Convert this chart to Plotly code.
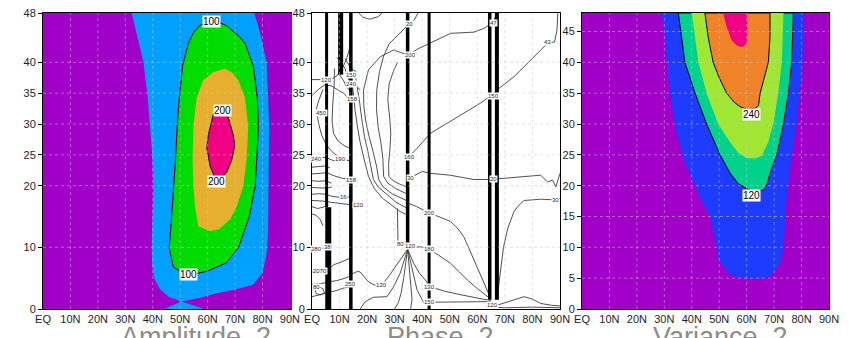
import plotly.graph_objects as go

# ---------------- axes / ticks ----------------
LAT_TICKS = [0, 10, 20, 30, 40, 50, 60, 70, 80, 90]
LAT_LABELS = ["EQ", "10N", "20N", "30N", "40N", "50N", "60N", "70N", "80N", "90N"]
LEV_TICKS_AP = [0, 10, 20, 25, 30, 35, 40, 48]
LEV_TICKS_VAR = [0, 5, 10, 15, 20, 25, 30, 35, 40, 45]

# ---------------- Amplitude 2 : contour boundaries (lat, level) ----------------
AMP_50_LAT = [32.3, 34.0, 36.6, 38.0, 39.0, 39.8, 40.2, 40.0, 39.6, 39.8, 40.5, 42.6, 46.0, 50.5,
              44.2, 58.8, 50.5, 57.0, 63.0, 69.3, 76.5, 80.0, 81.5, 82.0, 82.3, 82.4, 81.5, 79.0, 77.0]
AMP_50_LEV = [48, 45, 40, 35, 30, 25, 20, 15, 10, 7, 5, 3.2, 1.9, 1.2,
              0, 0, 1.2, 1.8, 2.5, 3.1, 3.9, 5.8, 9, 12, 20, 30, 40, 45, 48]
AMP_100_LAT = [57.2, 60.0, 62.0, 64.5, 67.0, 69.5, 71.5, 73.6, 76.6, 78.1, 78.5, 77.9, 77.3, 75.2, 71.2,
               66.9, 59.6, 55.4, 51.0, 47.5, 46.0, 46.9, 47.7, 48.3, 48.9, 49.7, 50.9, 53.0, 54.8]
AMP_100_LEV = [46.0, 46.5, 46.6, 46.4, 45.9, 45.0, 44.2, 43.1, 39.5, 34.3, 29.6, 24.2, 19.9, 15.0, 9.9,
               7.5, 6.1, 5.7, 5.9, 6.8, 9.9, 15.0, 19.9, 24.2, 29.6, 34.3, 39.5, 43.1, 44.8]
AMP_150_LAT = [62.0, 66.3, 69.0, 71.2, 73.6, 74.8, 74.2, 73.0, 70.6, 68.2, 64.0, 60.9, 56.6, 55.4,
               54.8, 54.5, 54.8, 56.0, 58.4]
AMP_150_LEV = [38.4, 39.0, 38.3, 37.1, 34.3, 29.6, 24.2, 19.9, 16.6, 14.5, 12.9, 12.6, 13.4, 16.6,
               19.9, 24.2, 29.6, 34.3, 37.1]
AMP_200_LAT = [62.0, 64.8, 67.2, 69.3, 69.9, 68.8, 66.9, 65.1, 62.7, 60.9, 59.7, 60.3, 61.5]
AMP_200_LEV = [31.5, 31.8, 31.5, 28.3, 26.6, 24.2, 22.1, 21.3, 21.2, 23.2, 26.1, 28.3, 30.5]
AMP_LABELS = ["100", "100", "200", "200"]
AMP_LABEL_LAT = [61.5, 53.0, 65.3, 63.2]
AMP_LABEL_LEV = [46.6, 5.6, 32.2, 20.6]

# ---------------- Variance 2 : contour boundaries (lat, level) ----------------
VAR_60_LAT = [29.0, 30.0, 30.9, 32.0, 33.9, 36.9, 41.2, 43.6, 46.6, 48.0, 49.1, 49.3, 51.5, 54.0, 57.6,
              62.0, 66.0, 68.5, 71.5, 72.8, 73.4, 73.8, 74.0, 75.0, 76.4, 78.2, 79.4, 80.4, 80.7]
VAR_60_LEV = [48, 44.8, 39.6, 35, 29.6, 24.4, 19.9, 17.4, 15, 12.3, 9.8, 8.4, 6.8, 5.5, 5.0,
              4.8, 4.9, 5.2, 6.8, 8.4, 9.8, 12.3, 15, 20, 25, 30, 35, 40, 48]
VAR_120_LAT = [35.1, 37.5, 41.2, 45.4, 50.3, 54.0, 57.0, 61.2, 64.0, 66.5, 67.6, 68.5, 71.0, 73.4, 75.2, 76.4, 77.0]
VAR_120_LEV = [48, 40, 35, 30, 25, 22, 20.3, 19.2, 19.0, 19.4, 20.5, 22, 25, 30, 35, 40, 48]
VAR_180_LAT = [40.0, 42.4, 45.4, 49.6, 54.0, 57.0, 60.0, 63.0, 65.5, 67.8, 69.7, 71.5, 72.8, 73.4]
VAR_180_LEV = [48, 40, 35, 30, 27, 25.3, 24.5, 24.4, 24.8, 27, 30, 35, 40, 48]
VAR_240_LAT = [44.8, 46.0, 47.8, 50.0, 52.7, 55.5, 57.6, 60.0, 63.0, 64.3, 64.9, 66.5, 67.9, 68.5, 68.5]
VAR_240_LEV = [48, 44, 40, 37.5, 35, 33.5, 32.8, 32.4, 32.5, 33, 35, 37.5, 40, 44, 48]
VAR_300_LAT = [51.5, 52.5, 54.5, 56.5, 58.5, 60.0, 60.3, 60.0]
VAR_300_LEV = [48, 46, 43.6, 42.7, 42.5, 43, 45, 48]
VAR_LABELS = ["240", "120"]
VAR_LABEL_LAT = [61.8, 61.8]
VAR_LABEL_LEV = [31.6, 18.4]

# ---------------- Phase 2 : contour lines (lat, level) ----------------
BAND_LAT = [5.3, 5.9, 10.4, 14.1, 34.7, 42.5, 64.5, 67.1]
BAND_BOT = [16.5, 0, 38, 0, 10, 0, 1.5, 1.5]
BAND_TOP = [48, 16.5, 48, 48, 48, 48, 48, 48]

PH_LINES = [
    # the "<"-shaped family between 15N and 35N
    ([13.8, 14.5, 15.0, 15.7, 16.5, 17.5, 18.8, 20.5, 22.5, 25.5, 29.0, 32.0, 34.7],
     [40, 37, 34.5, 32, 29.5, 27, 24.5, 21.5, 19.6, 18, 16.8, 15.8, 15.2]),
    ([15.5, 16.5, 17.3, 18.0, 19.0, 20.3, 21.5, 22.3, 24.0, 27.0, 30.5, 34.7],
     [38.5, 36, 33.5, 31, 28, 25.5, 23, 21, 19.8, 18.6, 17.3, 16.3]),
    ([67.1, 65.6, 62.4, 58.8, 50.3, 43.0, 38.5, 34.7, 29.6, 24.8, 20.5, 18.7, 18.8, 19.5, 20.7, 22.2,
      23.5, 24.2, 25.8, 29.0, 32.0, 34.7],
     [48, 46.4, 45.5, 44.9, 44.7, 43.1, 42.2, 41.2, 42, 40.9, 38.8, 35.5, 33, 30.5, 28, 25.5,
      23, 21, 19.8, 18.7, 18, 17.5]),
    ([38.5, 37.0, 34.7, 31.5, 28.0, 26.0, 24.5, 23.5, 23.4, 24.0, 25.0, 25.7, 26.0, 27.5, 30.5, 34.7],
     [48, 46.8, 46, 44.5, 43, 41, 38.5, 35.5, 32.5, 29.5, 27, 24.5, 21.5, 20.4, 19.5, 18.6]),
    ([31.0, 29.5, 28.0, 27.5, 28.2, 28.6, 28.3, 27.8, 27.9, 29.5, 32.0, 34.7],
     [40, 38.5, 36.5, 34, 31, 28.5, 26, 23.5, 21.5, 20.8, 20.2, 19.8]),
    ([17.0, 18.5, 21.0, 24.0, 25.5], [48, 47.3, 47, 47.4, 48]),
    # right half
    ([34.7, 38.0, 43.0, 49.1, 55.1, 61.2, 64.3, 68.5, 73.4, 78.2, 83.1, 85.5, 88.0, 88.9, 89.2],
     [24.5, 26, 28.5, 30.1, 31.7, 33.4, 34.4, 36, 37.7, 39.8, 42, 43.1, 43.3, 45.2, 48]),
    ([34.7, 37.0, 40.0, 43.0, 50.0, 58.8, 64.5, 67.1, 75.0, 80.5, 83.0, 85.5, 87.3, 88.5, 89.5, 90.0],
     [21.2, 21.6, 22.3, 22, 21.7, 21, 21, 21.1, 21.4, 21.6, 21.7, 20.6, 20.9, 19.8, 21.5, 22]),
    ([67.1, 67.8, 68.5, 69.5, 71.0, 73.3, 75.0, 77.0, 83.0, 88.0, 90.0],
     [1.5, 4, 7, 10, 13, 15.8, 16.8, 17.6, 17.8, 17.7, 18]),
    ([67.1, 70.0, 73.0, 77.0, 80.0, 83.0, 87.0, 90.0], [0.6, 1, 1.5, 2, 1.6, 0.9, 0.6, 0.5]),
    ([64.9, 70.0, 80.0, 90.0], [0.3, 0.2, 0.3, 0.2]),
    # fan converging near 65N at the surface
    ([34.7, 38.0, 42.5, 46.0, 50.3, 53.0, 55.1, 57.0, 58.8, 60.5, 62.4, 64.0, 64.9],
     [17.2, 16.6, 15.6, 15, 14.2, 13, 11.7, 9.8, 7.9, 6, 4.2, 2.6, 1.8]),
    ([34.7, 37.0, 39.4, 42.5, 46.0, 50.3, 53.5, 56.4, 59.5, 62.4, 64.9],
     [9.7, 10, 10.1, 9.7, 8.7, 7.4, 6, 4.7, 3.5, 2.5, 1.6]),
    ([34.7, 36.9, 39.0, 40.6, 43.0, 48.0, 53.0, 58.0, 62.0, 64.9],
     [9.7, 7.4, 5.8, 5, 3.6, 2.9, 2.4, 1.9, 1.6, 1.4]),
    ([34.7, 36.3, 37.5, 38.1, 39.5, 40.6, 43.0, 50.0, 57.0, 64.9],
     [9.7, 6.3, 4.3, 3.1, 1.8, 1, 1.1, 1.1, 1.1, 1.2]),
    ([34.7, 35.7, 36.2, 36.3, 35.8], [9.7, 5.2, 3, 1.6, 0]),
    ([14.1, 15.0, 16.5, 17.5, 19.0, 20.5, 22.5, 25.4, 28.0, 31.0, 33.0, 34.7],
     [5.6, 5.8, 6.1, 6, 5.1, 4.4, 3.9, 3.9, 5.4, 7.3, 8.6, 9.7]),
    ([17.5, 19.3, 22.3, 25.4, 27.2, 29.6, 32.0, 34.7], [0, 1.2, 1.9, 1.9, 2, 3.6, 5.8, 9.7]),
    ([30.0, 31.3, 32.3, 33.3, 34.7], [0, 1, 2.5, 5.1, 9.7]),
    ([31.0, 31.0, 31.2, 33.0, 34.7], [16.3, 13.5, 11, 10.6, 10.3]),
    # dense cluster near the equator
    ([0, 3, 6, 9, 11, 12.5, 13.5, 14.0], [37.2, 37.2, 37.0, 37.8, 39, 40.5, 42, 44]),
    ([0, 2, 4.5, 7, 9.5, 11.5, 13, 14.1], [34.6, 35.5, 36.3, 36.2, 35.5, 35, 34.2, 33]),
    ([4.0, 2.6, 1.6, 2.3, 3.5, 5.2, 7.3, 9.6, 12.0, 14.1], [35.6, 34, 32.5, 30.3, 28.2, 26.6, 25.5, 24.7, 24.2, 24]),
    ([8.2, 8.0, 7.5, 7.3, 7.8, 9.5, 12.0, 14.1], [39, 36, 33, 30.5, 28.5, 27.2, 26.4, 26]),
    ([9.0, 10.5, 12.0, 13.0, 14.1], [40.8, 40, 39, 37.5, 36.5]),
    ([10.0, 11.5, 12.5, 14.1], [38, 37, 36, 35.3]),
    ([12.0, 13.5, 15.0, 16.2], [40.6, 39.5, 38.7, 38.5]),
    ([14.1, 15.5, 16.5, 17.5], [37.2, 36.5, 36, 35.5]),
    ([0, 2.5, 5, 7, 9], [24.5, 24.5, 24.6, 24.2, 23.9]),
    ([0, 2.5, 5, 6.5], [23.0, 23.1, 23.2, 22.9]),
    ([0, 3, 5.5, 8, 11, 14.1], [21.9, 22.0, 22.1, 21.6, 21.2, 21.0]),
    ([0, 2.5, 5, 7], [20.8, 20.7, 20.8, 20.4]),
    ([0, 3, 5.5, 7.2], [19.7, 19.6, 19.6, 19.8]),
    ([0, 2.5, 5, 7, 10, 14.1], [18.6, 18.7, 18.6, 18.3, 18.1, 18.2]),
    ([0, 4, 7, 10, 14.1, 16.5], [17.6, 17.5, 17.3, 17.1, 16.9, 16.8]),
    ([0, 2, 4, 6], [16.6, 16.3, 16.5, 16.9]),
    ([0, 1.5, 3.0, 4.0], [15.4, 15.2, 14.5, 13.5]),
    ([0, 3, 5.3, 7], [9.8, 9.8, 9.9, 10]),
    ([0, 2, 4, 6, 8, 10.5, 12.5, 14.1], [6.0, 6.1, 6.2, 6.5, 7.2, 7.6, 8, 8.3]),
    ([0, 3, 6, 9, 12, 14.1], [4.0, 4.1, 4.4, 4.6, 5, 5.4]),
    ([0, 3, 6, 9, 11.5, 14.1], [2.0, 2.3, 2.6, 3.0, 3.4, 3.6]),
    ([1.0, 2.5, 4.0, 4.5, 3.0, 1.5, 1.0], [3.2, 3.6, 3.3, 2.6, 2.3, 2.5, 3.2]),
]

PH_LABELS = ["20", "200", "47", "150", "160", "30", "20", "30", "43", "120", "150", "240", "158",
             "450", "240", "190", "158", "16", "120", "280", "38", "2070", "80", "250", "130",
             "80", "120", "200", "180", "130", "150", "120"]
PH_LABEL_LAT = [35.5, 35.8, 65.8, 65.8, 35.5, 35.8, 65.8, 88.3, 85.5, 5.3, 14.3, 14.5, 14.8,
                3.5, 1.5, 10.5, 14.3, 11.5, 16.8, 1.8, 5.6, 3.0, 1.8, 14.1, 25.4,
                32.0, 35.6, 42.5, 42.5, 42.5, 42.5, 65.5]
PH_LABEL_LEV = [46.2, 41.2, 46.4, 34.6, 24.6, 21.2, 21.1, 17.7, 43.3, 37.1, 38.0, 36.5, 34.0,
                31.8, 24.4, 24.3, 21.0, 18.1, 16.8, 9.8, 10.0, 6.2, 3.5, 4.0, 3.9,
                10.6, 10.2, 15.6, 9.7, 3.6, 1.1, 0.6]

TITLES = ["Amplitude  2", "Phase  2", "Variance  2"]

# ---------------- colours (GrADS defaults) ----------------
PURPLE = "rgb(160,0,200)"
AMP_COLORS = ["rgb(0,160,255)", "rgb(0,220,0)", "rgb(230,175,45)", "rgb(240,0,130)"]
VAR_COLORS = ["rgb(30,60,255)", "rgb(0,210,140)", "rgb(160,230,50)", "rgb(240,130,40)", "rgb(240,0,130)"]

# page body has an 8px margin, so the figure is laid out in its own coordinates
OFF = 8
W, H = 851 - OFF, 338


def px_x(p):
    return (p - OFF) / W


def px_y(p):
    return 1 - (p - OFF) / H


XDOM = [[px_x(43), px_x(292)], [px_x(312), px_x(560)], [px_x(582), px_x(829)]]
YDOM = [px_y(309), px_y(13)]
XRANGE = [[0, 90.75], [0, 90], [0, 90]]
FONT = "Liberation Sans, Arial, sans-serif"


def sfx(k):
    return "" if k == 1 else str(k)


fig = go.Figure()


def fill(lat, lev, color, k, outline):
    fig.add_trace(go.Scatter(
        x=lat + [lat[0]], y=lev + [lev[0]], xaxis="x" + sfx(k), yaxis="y" + sfx(k),
        mode="lines", fill="toself", fillcolor=color,
        line=dict(color="black" if outline else color, width=1 if outline else 0),
        hoverinfo="skip", showlegend=False))


# Amplitude
amp_polys = [(AMP_50_LAT, AMP_50_LEV, False), (AMP_100_LAT, AMP_100_LEV, True),
             (AMP_150_LAT, AMP_150_LEV, False), (AMP_200_LAT, AMP_200_LEV, True)]
for (la, le, ol), c in zip(amp_polys, AMP_COLORS):
    fill(la, le, c, 1, ol)

# Variance
var_polys = [(VAR_60_LAT, VAR_60_LEV, False), (VAR_120_LAT, VAR_120_LEV, True),
             (VAR_180_LAT, VAR_180_LEV, False), (VAR_240_LAT, VAR_240_LEV, True),
             (VAR_300_LAT, VAR_300_LEV, False)]
for (la, le, ol), c in zip(var_polys, VAR_COLORS):
    fill(la, le, c, 3, ol)

# Phase thin contour lines
for la, le in PH_LINES:
    fig.add_trace(go.Scatter(x=la, y=le, xaxis="x2", yaxis="y2", mode="lines",
                             line=dict(color="rgb(60,60,60)", width=0.9),
                             hoverinfo="skip", showlegend=False))
# Phase dense (wrap-around) bands
BAND_W = [3, 6, 5, 3.5, 3.5, 3, 3.5, 4]
for la, b, t, w in zip(BAND_LAT, BAND_BOT, BAND_TOP, BAND_W):
    fig.add_trace(go.Scatter(x=[la, la], y=[b, t], xaxis="x2", yaxis="y2", mode="lines",
                             line=dict(color="black", width=w),
                             hoverinfo="skip", showlegend=False))

annotations = []
for t, la, le in zip(AMP_LABELS, AMP_LABEL_LAT, AMP_LABEL_LEV):
    annotations.append(dict(x=la, y=le, xref="x", yref="y", text=t, showarrow=False,
                            bgcolor="white", borderpad=0, font=dict(size=10, color="black", family=FONT)))
for t, la, le in zip(VAR_LABELS, VAR_LABEL_LAT, VAR_LABEL_LEV):
    annotations.append(dict(x=la, y=le, xref="x3", yref="y3", text=t, showarrow=False,
                            bgcolor="white", borderpad=0, font=dict(size=10, color="black", family=FONT)))
for t, la, le in zip(PH_LABELS, PH_LABEL_LAT, PH_LABEL_LEV):
    annotations.append(dict(x=la, y=le, xref="x2", yref="y2", text=t, showarrow=False,
                            bgcolor="white", borderpad=0, font=dict(size=6, color="rgb(40,40,40)", family=FONT)))
TITLE_X = [px_x(196), px_x(440), px_x(720)]
for t, xx in zip(TITLES, TITLE_X):
    annotations.append(dict(x=xx, y=px_y(337), xref="paper", yref="paper", text=t, showarrow=False,
                            xanchor="center", yanchor="middle",
                            font=dict(size=27, color="rgb(140,140,140)", family=FONT)))

shapes = []
# purple backgrounds for the shaded panels
for k in (1, 3):
    shapes.append(dict(type="rect", xref=f"x{sfx(k)} domain", yref=f"y{sfx(k)} domain",
                       x0=0, x1=1, y0=0, y1=1,
                       fillcolor=PURPLE, line=dict(width=0), layer="below"))
# dotted grid drawn above the shading
GRID_COLOR = "rgba(200,200,200,0.5)"
grid_y = [LEV_TICKS_AP, LEV_TICKS_AP, LEV_TICKS_VAR]
for k in (1, 2, 3):
    for v in LAT_TICKS[1:-1]:
        shapes.append(dict(type="line", xref="x" + sfx(k), yref=f"y{sfx(k)} domain", x0=v, x1=v, y0=0, y1=1,
                           line=dict(color=GRID_COLOR, width=1, dash="dot"), layer="above"))
    for v in grid_y[k - 1][1:]:
        if v >= 48:
            continue
        shapes.append(dict(type="line", xref=f"x{sfx(k)} domain", yref="y" + sfx(k), x0=0, x1=1, y0=v, y1=v,
                           line=dict(color=GRID_COLOR, width=1, dash="dot"), layer="above"))

layout = dict(width=W, height=H, margin=dict(l=0, r=0, t=0, b=0, autoexpand=False),
              paper_bgcolor="white", plot_bgcolor="white",
              showlegend=False, annotations=annotations, shapes=shapes)
yt = [LEV_TICKS_AP, LEV_TICKS_AP, LEV_TICKS_VAR]
for k in (1, 2, 3):
    s = sfx(k)
    layout["xaxis" + s] = dict(domain=XDOM[k - 1], range=XRANGE[k - 1], tickvals=LAT_TICKS,
                               ticktext=LAT_LABELS, showgrid=False, zeroline=False,
                               showline=True, linecolor="black", linewidth=1, mirror=True,
                               ticks="", automargin=False, ticklabeloverflow="allow",
                               tickfont=dict(size=11, color="rgb(30,30,30)", family=FONT),
                               anchor="y" + s, fixedrange=True)
    layout["yaxis" + s] = dict(domain=YDOM, range=[0, 48], tickvals=yt[k - 1],
                               showgrid=False, zeroline=False, showline=True, linecolor="black",
                               linewidth=1, mirror=(k != 1), ticks="outside", ticklen=4,
                               tickcolor="black", automargin=False, ticklabeloverflow="allow",
                               tickfont=dict(size=11, color="rgb(30,30,30)", family=FONT),
                               anchor="x" + s, fixedrange=True)
fig.update_layout(**layout)
fig.write_html("out.html")
